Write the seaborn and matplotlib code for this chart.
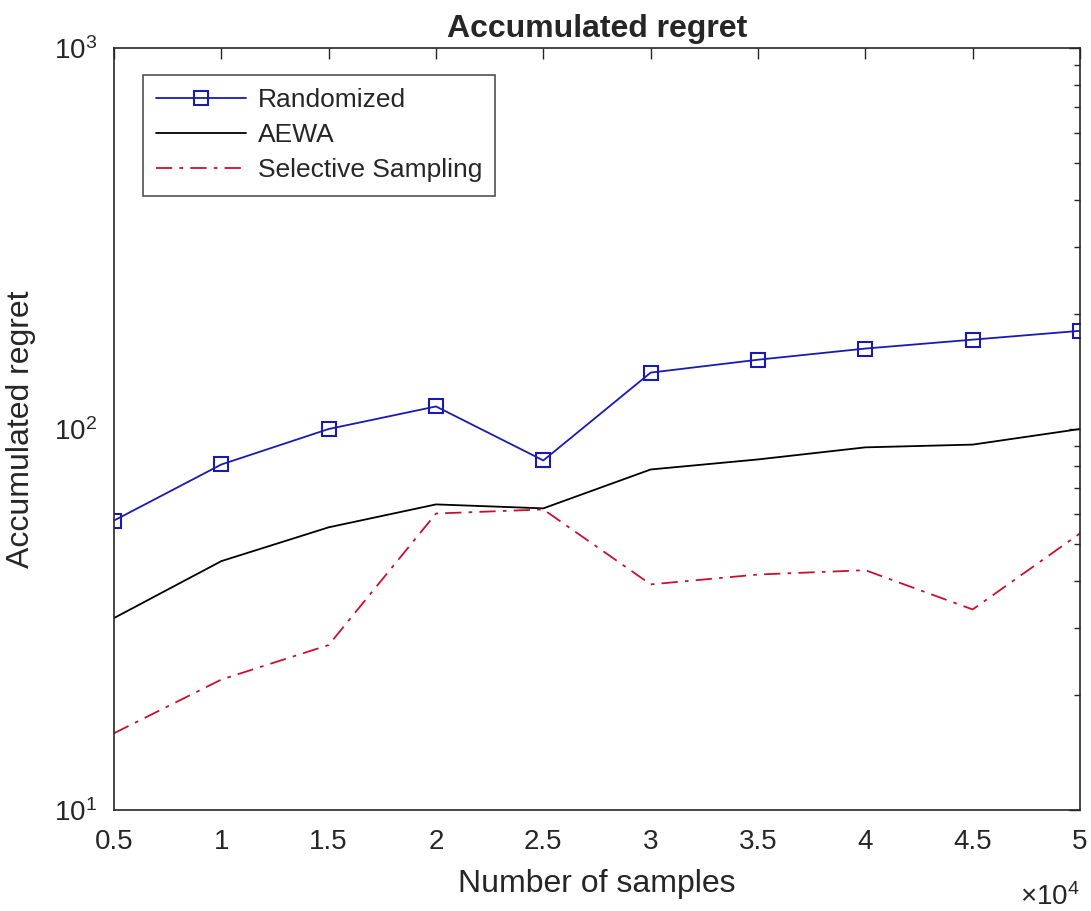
import numpy as np
import pandas as pd
import matplotlib
matplotlib.use("Agg")
import matplotlib.pyplot as plt
from matplotlib import font_manager
import seaborn as sns
from matplotlib.ticker import FixedLocator, FixedFormatter, LogLocator, NullFormatter

samples = [5000, 10000, 15000, 20000, 25000, 30000, 35000, 40000, 45000, 50000]
randomized = [57.5, 80.7, 100.0, 114.6, 82.7, 140.6, 152.0, 162.6, 171.6, 181.0]
aewa = [31.9, 45.0, 55.2, 63.4, 61.9, 78.3, 83.2, 89.5, 91.0, 100.0]
selective = [15.9, 22.0, 27.1, 60.0, 61.5, 39.1, 41.5, 42.6, 33.6, 53.2]
x_tick_labels = ["0.5", "1", "1.5", "2", "2.5", "3", "3.5", "4", "4.5", "5"]

sns.set_style("white")
names = {f.name for f in font_manager.fontManager.ttflist}
fam = [n for n in ["Liberation Sans", "Arimo", "Arial", "Roboto"] if n in names]
plt.rcParams['font.family'] = fam + ['DejaVu Sans']
plt.rcParams['mathtext.fontset'] = 'custom'
plt.rcParams['mathtext.rm'] = fam[0] if fam else 'DejaVu Sans'
plt.rcParams['mathtext.default'] = 'rm'

TXT = '#262626'
fig = plt.figure(figsize=(10.91, 9.11), dpi=100)
ax = fig.add_axes([114/1091, 1 - 810/911, (1080-114)/1091, (810-48)/911])

df_r = pd.DataFrame({"x": samples, "y": randomized})
df_a = pd.DataFrame({"x": samples, "y": aewa})
df_s = pd.DataFrame({"x": samples, "y": selective})

blue = "#1a1ab0"
sns.lineplot(data=df_r, x="x", y="y", ax=ax, color=blue, lw=1.3,
             marker="s", markersize=10, markerfacecolor="none",
             markeredgecolor=blue, markeredgewidth=1.5, label="Randomized")
sns.lineplot(data=df_a, x="x", y="y", ax=ax, color="black", lw=1.3, label="AEWA")
sns.lineplot(data=df_s, x="x", y="y", ax=ax, color="#c8102e", lw=1.3,
             label="Selective Sampling")
ax.lines[-1].set_dashes([9, 4, 2, 4])

ax.set_yscale("log")
ax.set_ylim(10, 1000)
ax.set_xlim(5000, 50000)
ax.xaxis.set_major_locator(FixedLocator(samples))
ax.xaxis.set_major_formatter(FixedFormatter(x_tick_labels))
ax.yaxis.set_major_locator(LogLocator(base=10))
ax.yaxis.set_minor_locator(LogLocator(base=10, subs=np.arange(2, 10)))
ax.yaxis.set_minor_formatter(NullFormatter())

ax.tick_params(axis='both', which='both', top=True, right=True, direction='in',
               colors=TXT, labelcolor=TXT)
ax.tick_params(axis='both', which='major', length=8, width=1, labelsize=20)
ax.tick_params(axis='y', which='minor', length=4, width=1)
ax.tick_params(axis='x', pad=14)
ax.tick_params(axis='y', pad=12)
for s in ax.spines.values():
    s.set_color(TXT)
    s.set_linewidth(1.2)

ax.set_xlabel("Number of samples", fontsize=23, color=TXT, labelpad=10)
ax.set_ylabel("Accumulated regret", fontsize=23, color=TXT, labelpad=13)
ax.set_title("Accumulated regret", fontsize=23, fontweight='bold', pad=8)
fig.text(1080/1091, 1 - 897/911, r"$\times10^{4}$", fontsize=20, color=TXT,
         va='center', ha='right')

leg = ax.legend(loc='upper left', bbox_to_anchor=(29/966, 1 - 27/762), fontsize=19,
                frameon=True, fancybox=False, edgecolor=TXT,
                handlelength=3.4, handletextpad=0.45, borderpad=0.5,
                borderaxespad=0, labelspacing=0.42)
leg.get_frame().set_linewidth(1.2)

fig.savefig("out.png", dpi=100, facecolor='white')
